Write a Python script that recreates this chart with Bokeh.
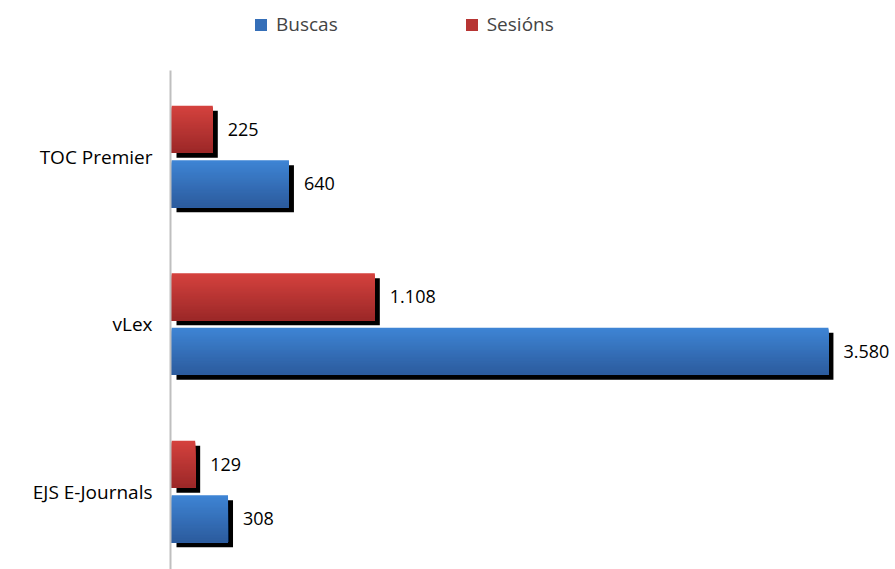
from bokeh.plotting import figure
from bokeh.models import Range1d, FixedTicker, Legend, LegendItem, BoxAnnotation
from bokeh.embed import file_html
from bokeh.resources import INLINE

# ---- data ----
categories = ["TOC Premier", "vLex", "EJS E-Journals"]
series_names = ["Buscas", "Sesións"]
buscas = [640, 3580, 308]
sesions = [225, 1108, 129]

# ---- layout / style ----
FONT = "Open Sans"
W, H = 895, 569
LEFT = 163           # frame left (canvas px)
PX_X = 0.1835        # px per unit
ZERO_PAD = 8         # px between frame left and value 0
AXIS_TOP = 70        # canvas y where the axis line starts
PX_Y = 167.5         # px per category
FIRST_CENTER = 156   # canvas y of first category centre
BAR_H = 0.28
OFFS = {"Sesións": -0.163, "Buscas": 0.163}
GRAD = {"Buscas": ((62, 132, 212), (44, 92, 158)),
        "Sesións": ((212, 66, 62), (156, 40, 40))}
NSTRIP = 40

frame_w = W - LEFT
X_START = -ZERO_PAD / PX_X
X_END = X_START + frame_w / PX_X
Y_TOP = -FIRST_CENTER / PX_Y
Y_BOTTOM = Y_TOP + H / PX_Y
SH_DX = 5 / PX_X
SH_DY = 5 / PX_Y

p = figure(width=W, height=H, output_backend="svg", toolbar_location=None,
           x_range=Range1d(X_START, X_END), y_range=Range1d(Y_BOTTOM, Y_TOP),
           x_axis_location=None, min_border_left=LEFT, min_border_top=0,
           min_border_right=0, min_border_bottom=0)
p.outline_line_color = None
p.grid.visible = False
p.background_fill_color = "white"
p.border_fill_color = "white"


def hexc(c):
    return "#%02x%02x%02x" % tuple(int(round(v)) for v in c)


def grad(top, bot, n):
    return [hexc([top[j] + (bot[j] - top[j]) * k / (n - 1) for j in range(3)]) for k in range(n)]


idx = list(range(len(categories)))
legend_r = {}
for name, vals in (("Buscas", buscas), ("Sesións", sesions)):
    off = OFFS[name]
    yc = [i + off for i in idx]
    # shadow
    p.hbar(y=[y + SH_DY for y in yc], height=BAR_H, left=SH_DX,
           right=[v + SH_DX for v in vals], fill_color="black", line_color=None)
    cols = grad(GRAD[name][0], GRAD[name][1], NSTRIP)
    sh = BAR_H / NSTRIP
    for k, c in enumerate(cols):
        tops = [y - BAR_H / 2 + k * sh for y in yc]
        bots = [y + BAR_H / 2 for y in yc]
        r = p.hbar(y=[(t + b) / 2 for t, b in zip(tops, bots)],
                   height=[b - t for t, b in zip(tops, bots)],
                   left=0, right=vals, fill_color=c, line_color=None)
        if k == NSTRIP // 2:
            legend_r[name] = r
    labels = [f"{v:,}".replace(",", ".") for v in vals]
    p.text(x=vals, y=yc, text=labels, x_offset=15, text_baseline="middle",
           text_align="left", text_font_size="18px", text_color="black",
           text_font={"value": FONT})

# y axis (labels only; the line is drawn below so it starts lower)
ax = p.yaxis[0]
ax.ticker = FixedTicker(ticks=idx)
ax.major_label_overrides = {i: c for i, c in zip(idx, categories)}
ax.major_tick_line_color = None
ax.minor_tick_line_color = None
ax.axis_line_color = None
ax.major_label_text_font = FONT
ax.major_label_text_font_size = "19px"
ax.major_label_text_color = "black"
ax.major_label_standoff = 5

p.add_layout(BoxAnnotation(left=-2 / PX_X, right=0,
                           top=Y_TOP + AXIS_TOP / PX_Y, bottom=Y_BOTTOM,
                           fill_color="#bfbfbf", fill_alpha=1, line_color=None))

legend = Legend(items=[LegendItem(label=n, renderers=[legend_r[n]]) for n in series_names],
                orientation="horizontal", location=(90, H - 37),
                border_line_color=None, background_fill_alpha=0, padding=0, margin=0,
                spacing=126, glyph_width=15, glyph_height=15, label_standoff=8,
                label_text_font=FONT, label_text_font_size="19px", label_height=20)
p.add_layout(legend)

open("out.html", "w").write(file_html(p, INLINE))
